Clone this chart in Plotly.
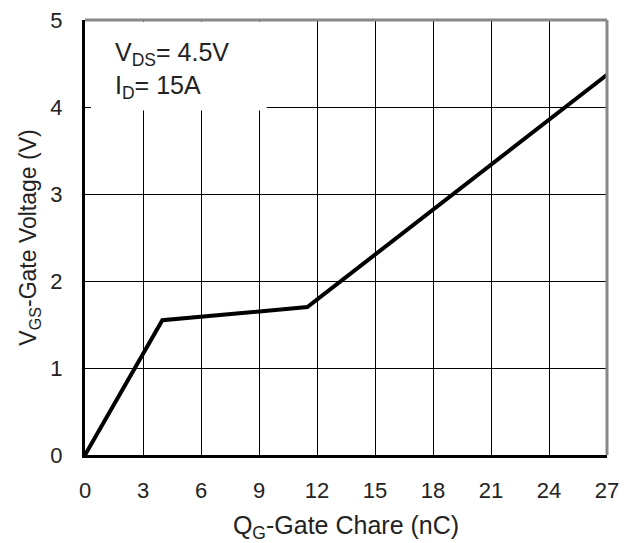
import plotly.graph_objects as go

qg = [0, 4.0, 11.5, 27]
vgs = [0, 1.55, 1.70, 4.37]
x_ticks = [0, 3, 6, 9, 12, 15, 18, 21, 24, 27]
y_ticks = [0, 1, 2, 3, 4, 5]

fig = go.Figure()
fig.add_trace(go.Scatter(x=qg, y=vgs, mode="lines",
                         line=dict(color="black", width=4), showlegend=False))

fam = "Liberation Sans, Arial"
fig.update_layout(
    width=626, height=535,
    margin=dict(l=77, r=27, t=12, b=88),
    paper_bgcolor="white", plot_bgcolor="white",
    font=dict(family=fam, size=22, color="#222"),
    xaxis=dict(range=[0, 27], tickvals=x_ticks, showgrid=True, gridcolor="black",
               gridwidth=1, zeroline=False, showline=True, linecolor="black",
               linewidth=3, ticks="inside", ticklen=6, tickcolor="black",
               tickfont=dict(family=fam, size=22, color="#222"),
               ticklabelstandoff=14, automargin=False, ticklabeloverflow="allow",
               title=dict(text="Q<sub>G</sub>-Gate Chare (nC)", standoff=16,
                          font=dict(family=fam, size=25, color="#222"))),
    yaxis=dict(range=[0, 5], tickvals=y_ticks, showgrid=True, gridcolor="black",
               gridwidth=1, zeroline=False, showline=True, linecolor="black",
               linewidth=3, ticks="inside", ticklen=6, tickcolor="black",
               tickfont=dict(family=fam, size=22, color="#222"),
               ticklabelstandoff=15, automargin=False, ticklabeloverflow="allow",
               title=dict(text="V<sub>GS</sub>-Gate Voltage (V)", standoff=8,
                          font=dict(family=fam, size=23, color="#222"))),
)
fig.add_shape(type="rect", xref="x", yref="y", x0=0.05, x1=9.4, y0=3.96, y1=4.98,
              fillcolor="white", line=dict(width=0), layer="between")
fig.add_shape(type="line", xref="paper", yref="paper", x0=0, x1=1, y0=1, y1=1,
              line=dict(color="#888", width=3))
fig.add_shape(type="line", xref="paper", yref="paper", x0=1, x1=1, y0=0, y1=1,
              line=dict(color="#888", width=3))
fig.add_annotation(xref="x", yref="y", x=1.45, y=4.82, xanchor="left", yanchor="top",
                   text="V<sub>DS</sub>= 4.5V<br>I<sub>D</sub>= 15A", showarrow=False,
                   align="left", font=dict(family=fam, size=25, color="#222"))
fig.write_html("out.html")
